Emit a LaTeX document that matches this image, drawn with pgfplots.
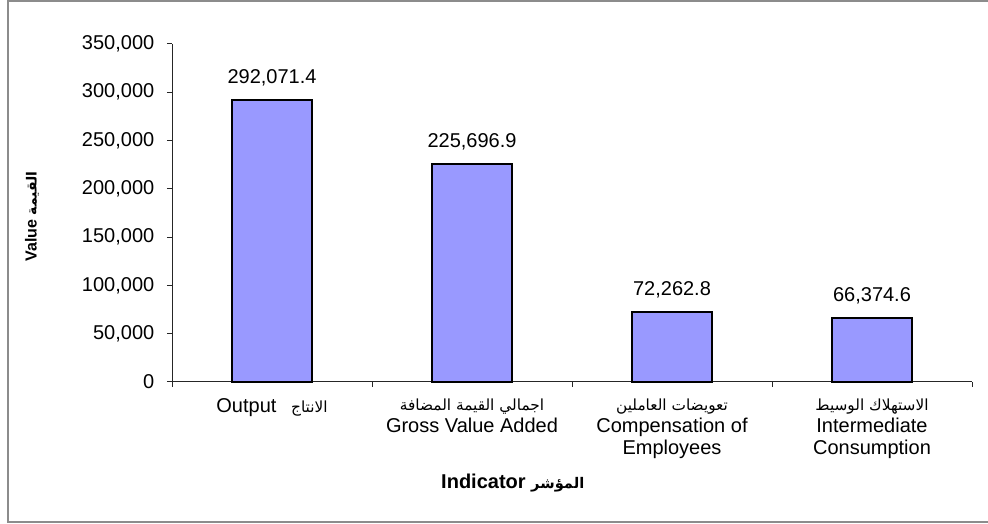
\documentclass[border=0pt]{standalone}
\usepackage{pgfplots}
\pgfplotsset{compat=1.18}
\usepackage{fontspec}
\setmainfont{Liberation Sans}
\newfontfamily\arabicfont[Script=Arabic]{DejaVu Sans}
\TeXXeTstate=1
\definecolor{barblue}{HTML}{9999FF}
\definecolor{framegray}{HTML}{8C8C8C}
\newcommand{\arf}{\fontsize{11.5}{16.5}\arabicfont}
\pgfplotstableread{
x y label
0 292071.4 292,071.4
1 225696.9 225,696.9
2 72262.8 72,262.8
3 66374.6 66,374.6
}\datatable
\begin{document}
\begin{tikzpicture}
\path[use as bounding box] (0pt,0pt) rectangle (741pt,393pt);
\draw[framegray, line width=1.5pt] (6pt,1.5pt) rectangle (760pt,392.5pt);
\begin{axis}[
  at={(129pt,106.5pt)}, anchor=south west,
  scale only axis, width=600pt, height=253.5pt,
  xmin=-0.5, xmax=3.5, ymin=0, ymax=350000,
  axis x line=bottom, axis y line=left,
  axis line style={-, black!85, line width=0.75pt},
  ytick={0,50000,100000,150000,200000,250000,300000,350000},
  scaled y ticks=false,
  yticklabel style={font=\fontsize{15}{18}\selectfont, xshift=-6pt, /pgf/number format/fixed, /pgf/number format/1000 sep={,}, /pgf/number format/assume math mode=true},
  tick align=outside,
  tick style={black!85, line width=0.75pt},
  major tick length=3.75pt,
  minor tick length=3.75pt,
  xtick={0,1,2,3},
  major x tick style={draw=none},
  minor xtick={-0.5,0.5,1.5,2.5,3.5},
  xticklabels={
    {Output\hspace{11pt}{\arf\beginR الانتاج\endR}},
    {{\arf\beginR اجمالي القيمة المضافة\endR}\\Gross Value Added},
    {{\arf\beginR تعويضات العاملين\endR}\\Compensation of\\Employees},
    {{\arf\beginR الاستهلاك الوسيط\endR}\\Intermediate\\Consumption}
  },
  xticklabel style={align=center, font=\fontsize{15}{16.5}\selectfont, yshift=-5pt},
  ticklabel style={text=black},
  ylabel={\textbf{Value} {\fontsize{10.5}{12}\arabicfont\bfseries\beginR القيمة\endR}},
  xlabel={\textbf{Indicator} {\fontsize{11}{14}\arabicfont\bfseries\beginR المؤشر\endR}},
  every axis y label/.style={at={(axis description cs:-0.175,0.49)}, rotate=90, anchor=center, font=\fontsize{12}{15}\selectfont},
  every axis x label/.style={at={(axis description cs:0.426,-0.3)}, anchor=center, font=\fontsize{15}{17}\selectfont},
  clip=false,
]
\addplot[ybar, bar width=0.4, fill=barblue, draw=black, line width=1.5pt,
  point meta=explicit symbolic,
  nodes near coords={\pgfplotspointmeta},
  every node near coord/.append style={font=\fontsize{15}{18}\selectfont, inner sep=0pt, anchor=south, yshift=10pt, text=black}
] table[x=x, y=y, meta=label] {\datatable};
\end{axis}
\end{tikzpicture}
\end{document}
